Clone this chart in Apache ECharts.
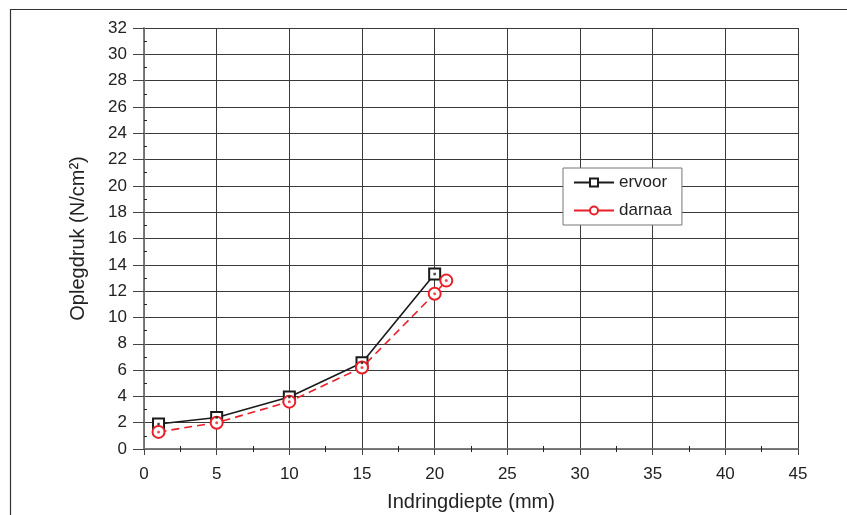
<!DOCTYPE html>
<html>
<head>
<meta charset="utf-8">
<script src="https://cdn.jsdelivr.net/npm/echarts@6/dist/echarts.min.js"></script>
<style>
  html, body { margin: 0; padding: 0; background: #fff; }
  #chart { width: 847px; height: 515px; }
</style>
</head>
<body>
<div id="chart"></div>
<script>
// Oplegdruk tegen indringdiepte, twee metingen (ervoor / darnaa)
const ervoorX = [1, 5, 10, 15, 20];
const ervoorY = [1.9, 2.4, 3.95, 6.55, 13.3];
const darnaaX = [1, 5, 10, 15, 20, 20.8];
const darnaaY = [1.3, 2.0, 3.6, 6.2, 11.8, 12.8];

const seriesNames = ['ervoor', 'darnaa'];
const xTitle = 'Indringdiepte (mm)';
const yTitle = 'Oplegdruk (N/cm²)';

const zip = (xs, ys) => xs.map((x, i) => [x, ys[i]]);

const chart = echarts.init(document.getElementById('chart'));
const textColor = '#222';
const font = 'Liberation Sans, Arial, sans-serif';

chart.setOption({
    animation: false,
    textStyle: { fontFamily: font },
    graphic: [{
        type: 'rect',
        shape: { x: 10.5, y: 9.5, width: 900, height: 600 },
        style: { fill: 'none', stroke: '#333', lineWidth: 1.2 },
        silent: true
    }],
    grid: { left: 144, right: 49, top: 28, bottom: 66, containLabel: false, outerBoundsMode: 'none' },
    legend: {
        orient: 'vertical',
        left: 563, top: 168,
        width: 124,
        padding: [6, 10, 6, 10],
        itemGap: 11,
        itemWidth: 40, itemHeight: 10,
        backgroundColor: '#fff',
        borderColor: '#777', borderWidth: 1,
        textStyle: { fontSize: 17, color: textColor, fontFamily: font },
        data: [
            { name: seriesNames[0] },
            { name: seriesNames[1], lineStyle: { type: 'solid' } }
        ]
    },
    xAxis: [{
        type: 'value', min: 0, max: 45, interval: 5,
        name: xTitle, nameLocation: 'middle', nameGap: 43,
        nameTextStyle: { fontSize: 20, color: textColor },
        axisLine: { onZero: false, lineStyle: { color: '#666', width: 1.5 } },
        axisTick: { length: 6, lineStyle: { color: '#444' } },
        minorTick: { show: true, splitNumber: 2, length: -3, lineStyle: { color: '#222' } },
        axisLabel: { fontSize: 17, color: textColor, margin: 17 },
        splitLine: { show: true, lineStyle: { color: '#3a3a3a', width: 1 } }
    }, {
        type: 'value', position: 'top', min: 0, max: 45, interval: 5,
        axisLine: { show: true, lineStyle: { color: '#777', width: 1.5 } },
        axisTick: { show: false },
        minorTick: { show: true, splitNumber: 2, length: -3, lineStyle: { color: '#222' } },
        axisLabel: { show: false },
        splitLine: { show: false }
    }],
    yAxis: [{
        type: 'value', min: 0, max: 32, interval: 2,
        name: yTitle, nameLocation: 'middle', nameGap: 56, nameRotate: 90,
        nameTextStyle: { fontSize: 20, color: textColor },
        axisLine: { onZero: false, lineStyle: { color: '#666', width: 1.5 } },
        axisTick: { length: 11, lineStyle: { color: '#444' } },
        minorTick: { show: true, splitNumber: 2, length: -3, lineStyle: { color: '#222' } },
        axisLabel: { fontSize: 17, color: textColor, margin: 17 },
        splitLine: { show: true, lineStyle: { color: '#3a3a3a', width: 1 } }
    }, {
        type: 'value', position: 'right', min: 0, max: 32, interval: 2,
        axisLine: { show: true, lineStyle: { color: '#777', width: 1.5 } },
        axisTick: { show: false },
        minorTick: { show: true, splitNumber: 2, length: 3, lineStyle: { color: '#222' } },
        axisLabel: { show: false },
        splitLine: { show: false }
    }],
    series: [{
        name: seriesNames[0],
        type: 'line',
        data: zip(ervoorX, ervoorY),
        symbol: 'emptyRect', symbolSize: 11,
        lineStyle: { color: '#1a1a1a', width: 1.6 },
        itemStyle: { color: '#1a1a1a', borderWidth: 2 },
        z: 3
    }, {
        name: seriesNames[1],
        type: 'line',
        data: zip(darnaaX, darnaaY),
        symbol: 'emptyCircle', symbolSize: 12,
        lineStyle: { color: '#e8202a', width: 1.6, type: [8, 5] },
        itemStyle: { color: '#e8202a', borderWidth: 2 },
        z: 4
    }, {
        // middelpuntjes van de markers
        name: 'ervoor-dot', type: 'scatter', data: zip(ervoorX, ervoorY),
        symbol: 'rect', symbolSize: 2.5, itemStyle: { color: '#1a1a1a' }, z: 5, silent: true
    }, {
        name: 'darnaa-dot', type: 'scatter', data: zip(darnaaX, darnaaY),
        symbol: 'circle', symbolSize: 3, itemStyle: { color: '#e8202a' }, z: 6, silent: true
    }]
});
</script>
</body>
</html>
